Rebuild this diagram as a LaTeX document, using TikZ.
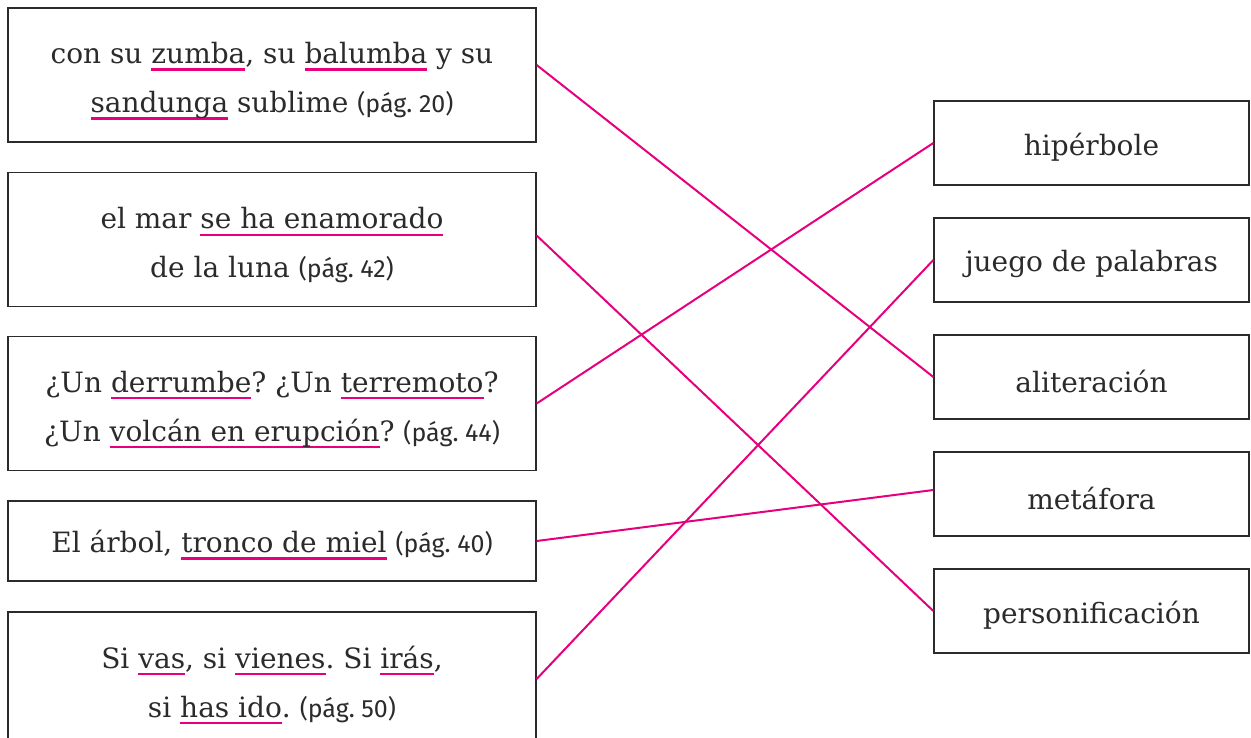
\documentclass[tikz,border=0pt]{standalone}
\usepackage{fontspec}
\setmainfont{DejaVu Serif}
\newfontfamily\pagfont{Fira Sans}
\usepackage{tikz}
\frenchspacing

\definecolor{rosa}{HTML}{E6007E}
\definecolor{tinta}{HTML}{2B2B2B}

% underline in pink
\newcommand\subr[1]{\setbox0\hbox{#1}\rlap{\color{rosa}\rule[-7pt]{\wd0}{2.2pt}}\box0\relax}
\newcommand\pag[1]{{\pagfont\fontsize{25}{30}\selectfont(pág.~#1)}}

\tikzset{
  caja/.style={draw=tinta, line width=1.3pt, inner sep=0pt},
  phrase/.style={caja, minimum width=528pt},
  figura/.style={caja, minimum width=315pt, minimum height=84pt},
  texto/.style={inner sep=0pt, text=tinta, align=center,
    font=\fontsize{28}{49}\selectfont},
  link/.style={rosa, line width=2pt}
}

\begin{document}
\begin{tikzpicture}[x=1pt, y=-1pt]
	\useasboundingbox (0,0) rectangle (1251,738);

	% left column
	\node [phrase, minimum height=134pt] (zumba) at (272,75) {};
	\node [phrase, minimum height=134pt] (mar) at (272,239.5) {};
	\node [phrase, minimum height=134pt] (derrumbe) at (272,403.5) {};
	\node [phrase, minimum height=80pt] (arbol) at (272,541) {};
	\node [phrase, minimum height=134pt] (vas) at (272,679) {};

	\node [texto] (zumba-t) at ([yshift=-6pt]zumba.center)
		{con su \subr{zumba}, su \subr{balumba} y su\\ \subr{sandunga} sublime \pag{20}};
	\node [texto] (mar-t) at ([yshift=-6pt]mar.center)
		{el mar \subr{se ha enamorado}\\ de la luna \pag{42}};
	\node [texto] (derrumbe-t) at ([yshift=-6pt]derrumbe.center)
		{¿Un \subr{derrumbe}? ¿Un \subr{terremoto}?\\ ¿Un \subr{volcán en erupción}? \pag{44}};
	\node [texto] (arbol-t) at ([yshift=-4pt]arbol.center)
		{El árbol, \subr{tronco de miel} \pag{40}};
	\node [texto] (vas-t) at ([yshift=-6pt]vas.center)
		{Si \subr{vas}, si \subr{vienes}. Si \subr{irás},\\ si \subr{has ido}. \pag{50}};

	% right column
	\node [figura] (hiperbole) at (1091.5,143) {};
	\node [figura] (juego) at (1091.5,260) {};
	\node [figura] (aliteracion) at (1091.5,377) {};
	\node [figura] (metafora) at (1091.5,494) {};
	\node [figura] (personif) at (1091.5,611) {};

	\node [texto] at ([yshift=-4pt]hiperbole.center) {hipérbole};
	\node [texto] at ([yshift=-4pt]juego.center) {juego de palabras};
	\node [texto] at ([yshift=-4pt]aliteracion.center) {aliteración};
	\node [texto] at ([yshift=-4pt]metafora.center) {metáfora};
	\node [texto] at ([yshift=-4pt]personif.center) {personificación};

	\draw [link] ([yshift=10pt]zumba.east) -- (aliteracion.west);
	\draw [link] ([yshift=4pt]mar.east) -- (personif.west);
	\draw [link] (derrumbe.east) -- (hiperbole.west);
	\draw [link] (arbol.east) -- ([yshift=4pt]metafora.west);
	\draw [link] (vas.east) -- (juego.west);
\end{tikzpicture}
\end{document}
